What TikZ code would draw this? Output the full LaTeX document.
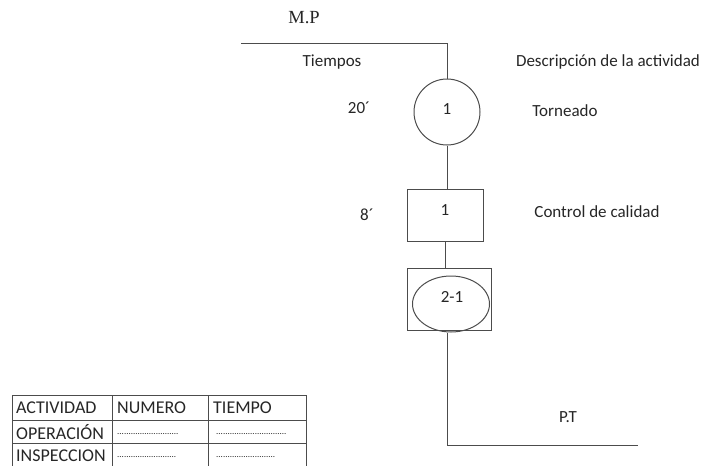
\documentclass[tikz,border=0pt]{standalone}
\usepackage{fontspec}
\setmainfont{Carlito}
\newfontfamily\serifmp{Liberation Serif}
\usetikzlibrary{shapes.geometric}
\begin{document}
\begin{tikzpicture}[x=1pt,y=-1pt,
  lbl/.style={font=\fontsize{17}{19}\selectfont, text=black!85, inner sep=0pt},
  flow/.style={draw=black!70, line width=1pt},
  cell/.style={font=\fontsize{18}{20}\selectfont, text=black!85, inner sep=0pt, anchor=west},
  dots/.style={font=\fontsize{9}{10}\selectfont, text=black!85, inner sep=0pt, anchor=west}]
\useasboundingbox (0,0) rectangle (705,466);
\clip (0,0) rectangle (705,466);
% labels
\node[inner sep=0pt, font=\serifmp\fontsize{18.5}{20}\selectfont, text=black!85] (mp) at (304,18) {M.P};
\node[lbl] (tiempos) at (332,62) {Tiempos};
\node[lbl] (desc) at (608,62) {Descripción de la actividad};
\node[lbl] (t20) at (359,108) {20´};
\node[lbl] (torn) at (565,111) {Torneado};
\node[lbl] (t8) at (367,215) {8´};
\node[lbl] (ctrl) at (597,212) {Control de calidad};
\node[lbl] (pt) at (568,417) {P.T};
% flow symbols
\coordinate (start) at (241,43);
\coordinate (corner) at (447,43);
\node[flow, circle, minimum size=66pt, inner sep=0pt] (op1) at (447,112) {};
\node[lbl] at (447,109) {1};
\node[flow, rectangle, minimum width=76pt, minimum height=52pt, inner sep=0pt] (insp1) at (445,215) {};
\node[lbl] at (445,210) {1};
\node[flow, rectangle, minimum width=84pt, minimum height=62pt, inner sep=0pt] (comb) at (449,299) {};
\node[flow, ellipse, minimum width=77pt, minimum height=56pt, inner sep=0pt] (combell) at (451,304) {};
\node[lbl] at (452,297) {2-1};
\coordinate (low) at (447,445);
\coordinate (endpt) at (638,445);
\draw[flow] (start) -- (corner) -- (op1.north);
\draw[flow] (op1.south) -- (op1.south |- insp1.north);
\draw[flow] (insp1.south) -- (insp1.south |- comb.north);
\draw[flow] (combell.south -| low) -- (low) -- (endpt);
% table
\draw[draw=black!70, line width=0.9pt] (12,395) -- (306,395) (12,420) -- (306,420) (12,443) -- (306,443)
  (12,395) -- (12,470) (112,395) -- (112,470) (208,395) -- (208,470) (306,395) -- (306,470);
\node[cell] (h1) at (16,408) {ACTIVIDAD};
\node[cell] (h2) at (117,408) {NUMERO};
\node[cell] (h3) at (213,408) {TIEMPO};
\node[cell] (r1) at (16,432) {OPERACIÓN};
\node[dots] (r1a) at (117,434) {...........................};
\node[dots] (r1b) at (216,434) {...............................};
\node[dots] (r2a) at (117,457) {..........................};
\node[dots] (r2b) at (216,457) {..........................};
\node[cell] (r2) at (16,456) {INSPECCION};
\end{tikzpicture}
\end{document}
